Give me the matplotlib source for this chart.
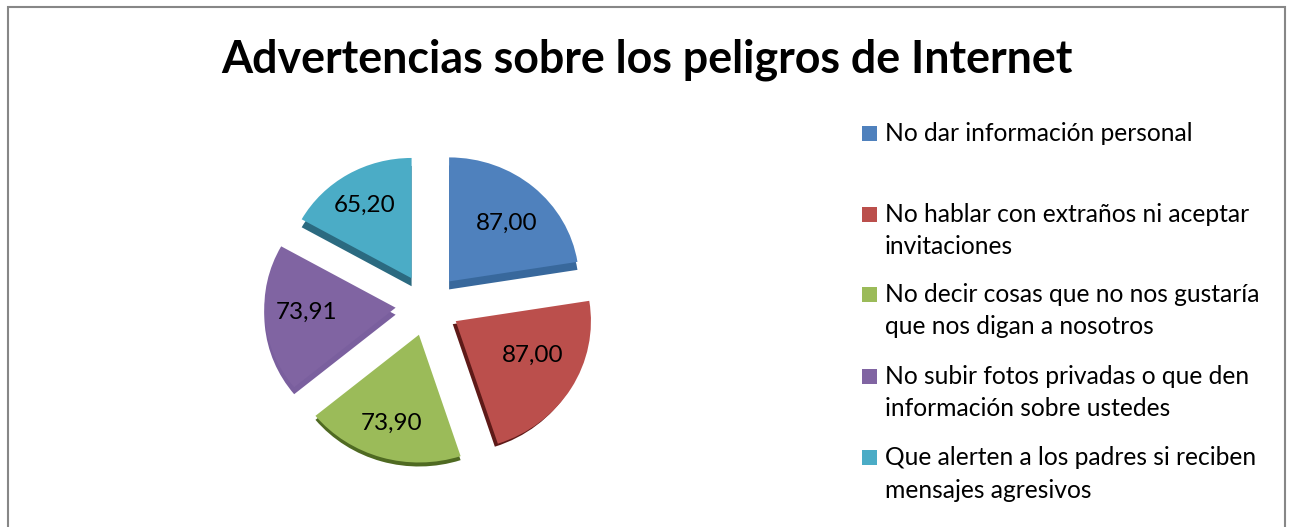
import matplotlib
matplotlib.use("Agg")
import matplotlib.pyplot as plt
from matplotlib.patches import Rectangle

W, H = 1292, 527
title = "Advertencias sobre los peligros de Internet"
categories = [
    "No dar información personal",
    "No hablar con extraños ni aceptar\ninvitaciones",
    "No decir cosas que no nos gustaría\nque nos digan a nosotros",
    "No subir fotos privadas o que den\ninformación sobre ustedes",
    "Que alerten a los padres si reciben\nmensajes agresivos",
]
values = [87.00, 87.00, 73.90, 73.91, 65.20]
value_labels = ["87,00", "87,00", "73,90", "73,91", "65,20"]
colors = ["#4f81bd", "#bb4f4c", "#9bbb59", "#8064a2", "#4bacc6"]
depth_colors = ["#38689c", "#5e1a18", "#4f6a22", "#7a5f9e", "#2b6a80"]
depth_shift_px = [(0, -8), (-3, -3), (0, -4), (0, -7), (0, -8)]
radius_scale = [1.0, 1.04, 1.03, 1.01, 0.97]
label_shift_px = [(1.5, -5), (3, 9), (-3, -9), (-2, 3), (-2.5, 1)]
legend_y_px = [133, 214, 294, 376, 457]

plt.rcParams["font.family"] = ["Lato", "DejaVu Sans"]
fig = plt.figure(figsize=(W / 100, H / 100), dpi=100, facecolor="white")

# outer frame (bottom edge falls outside the picture)
fig.add_artist(Rectangle((8 / W, -0.05), 1277 / W, 1.05 - 7 / H, transform=fig.transFigure,
                         fill=False, edgecolor="#878787", linewidth=1.5))

fig.text(647 / W, 1 - 60 / H, title, ha="center", va="center", fontsize=32.2, fontweight="bold", color="black")

# pie axes: centre at (428, 305) px, one radius = 130 x 124 px
cx, cy, rx, ry = 428, 305, 130, 124
x0, x1, ytop, ybot = 228, 628, 105, 505
ax = fig.add_axes([x0 / W, 1 - ybot / H, (x1 - x0) / W, (ybot - ytop) / H])
explode = [0.25] * 5

depth, _ = ax.pie(values, colors=depth_colors, startangle=90, counterclock=False, explode=explode,
                  wedgeprops=dict(linewidth=0))
for w, (dx, dy), s in zip(depth, depth_shift_px, radius_scale):
    c = w.center
    w.set_center((c[0] + dx / rx, c[1] + dy / ry))
    w.set_radius(s)
top, texts = ax.pie(values, colors=colors, startangle=90, counterclock=False, explode=explode,
                    labels=value_labels, labeldistance=0.67, wedgeprops=dict(linewidth=0),
                    textprops=dict(fontsize=17.5, color="black"))
for w, s in zip(top, radius_scale):
    w.set_radius(s)
for t, (dx, dy) in zip(texts, label_shift_px):
    t.set_ha("center")
    t.set_va("center")
    px, py = t.get_position()
    t.set_position((px + dx / rx, py + dy / ry))
ax.set_aspect("auto")
ax.set_xlim((x0 - cx) / rx, (x1 - cx) / rx)
ax.set_ylim((cy - ybot) / ry, (cy - ytop) / ry)
ax.axis("off")

# legend
for label, col, ypx in zip(categories, colors, legend_y_px):
    fig.add_artist(Rectangle((862 / W, 1 - (ypx + 8) / H), 15 / W, 15 / H, transform=fig.transFigure,
                             facecolor=col, edgecolor="none"))
    fig.text(885 / W, 1 - (ypx - 11) / H, label, ha="left", va="top", fontsize=17.75,
             color="black", linespacing=1.5)

fig.savefig("out.png", dpi=100)
